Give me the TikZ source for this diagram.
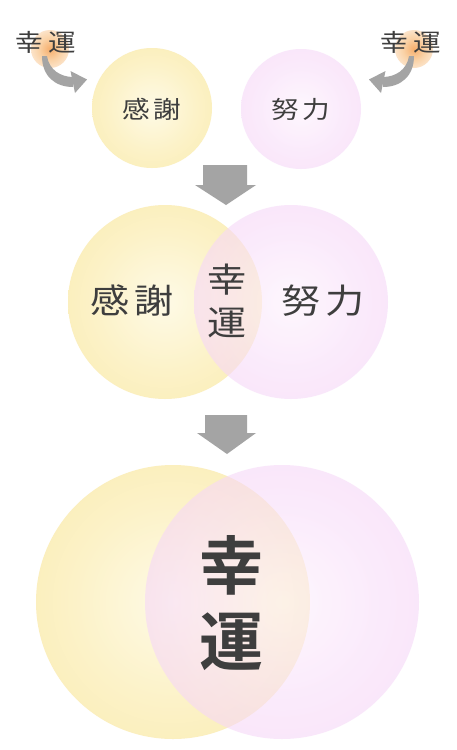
\documentclass[tikz,border=0pt]{standalone}
\usepackage{fontspec}
\newfontfamily\jp[BoldFont={* Bold}]{Noto Sans CJK JP}
\definecolor{yC}{HTML}{FEFAE6}
\definecolor{yM}{HTML}{FCF2C8}
\definecolor{yE}{HTML}{F8E69C}
\definecolor{pC}{HTML}{FDF2FD}
\definecolor{pM}{HTML}{F8DDF9}
\definecolor{pE}{HTML}{F0C1F3}
\definecolor{gC}{HTML}{F6AE6C}
\definecolor{gM}{HTML}{FAD3A8}
\definecolor{gO}{HTML}{FDEEDF}
\definecolor{txtc}{HTML}{3E3E3E}
\definecolor{arrc}{HTML}{A4A4A4}
\pgfdeclareradialshading{ylw}{\pgfpoint{0bp}{0bp}}{color(0bp)=(yC); color(18bp)=(yM); color(50bp)=(yE)}
\pgfdeclareradialshading{pnk}{\pgfpoint{0bp}{0bp}}{color(0bp)=(pC); color(18bp)=(pM); color(50bp)=(pE)}
\pgfdeclareradialshading{glw}{\pgfpoint{0bp}{0bp}}{color(0bp)=(gC); color(15bp)=(gM); color(32bp)=(gO); color(50bp)=(white)}
\begin{document}
\begin{tikzpicture}[x=1pt,y=-1pt,
  ycirc/.style={circle, inner sep=0pt, shading=ylw},
  pcirc/.style={circle, inner sep=0pt, shading=pnk, fill opacity=0.6},
  jtext/.style={inner sep=0pt, text=txtc, align=center},
  blockarrow/.style={fill=arrc},
  bentarrow/.style={fill=arrc}]
\useasboundingbox (0,0) rectangle (456,750);
\fill[white] (0,0) rectangle (456,750);
% glows
\shade[shading=glw] (50,49) circle (19);
\shade[shading=glw] (414,49) circle (19);
% top circles
\node[ycirc, minimum size=120] (ytop) at (152,108) {};
\node[pcirc, minimum size=120] (ptop) at (301,109) {};
% middle circles
\node[ycirc, minimum size=194] (ymid) at (165,302) {};
\node[pcirc, minimum size=194] (pmid) at (291,302) {};
% bottom circles
\node[ycirc, minimum size=274] (ybot) at (173,602) {};
\node[pcirc, minimum size=274] (pbot) at (282,602) {};
% bent arrows
\fill[bentarrow] (42,56) .. controls (42,76) and (55,87) .. (73,87) -- (73,77) .. controls (61,77) and (49,70) .. (47,56) -- cycle;
\fill[bentarrow] (70.5,71) -- (87,79.5) -- (75,93) -- cycle;
\begin{scope}[shift={(456,0)}, xscale=-1]
\fill[bentarrow] (42,56) .. controls (42,76) and (55,87) .. (73,87) -- (73,77) .. controls (61,77) and (49,70) .. (47,56) -- cycle;
\fill[bentarrow] (70.5,71) -- (87,79.5) -- (75,93) -- cycle;
\end{scope}
% block arrows
\fill[blockarrow] (203,165) -- (247,165) -- (247,185) -- (256,185) -- (226,205) -- (195,185) -- (203,185) -- cycle;
\fill[blockarrow] (205,415) -- (247,415) -- (247,433) -- (256,433) -- (227,454) -- (197,433) -- (205,433) -- cycle;
% texts
\node[jtext, font=\jp\fontsize{24}{24}\selectfont] (luckL) at (46,42) {\scalebox{1.15}[1]{幸\hspace{5pt}運}};
\node[jtext, font=\jp\fontsize{24}{24}\selectfont] (luckR) at (411,42) {\scalebox{1.15}[1]{幸\hspace{5pt}運}};
\node[jtext, font=\jp\fontsize{24}{24}\selectfont] (kansha1) at (152,109) {\scalebox{1.15}[1]{感\hspace{3.5pt}謝}};
\node[jtext, font=\jp\fontsize{24}{24}\selectfont] (doryoku1) at (301,109) {\scalebox{1.15}[1]{努\hspace{3.5pt}力}};
\node[jtext, font=\jp\fontsize{34}{34}\selectfont] (kansha2) at (132,301) {\scalebox{1.15}[1]{感\hspace{4.5pt}謝}};
\node[jtext, font=\jp\fontsize{34}{34}\selectfont] (doryoku2) at (323,301) {\scalebox{1.15}[1]{努\hspace{4.5pt}力}};
\node[jtext, font=\jp\fontsize{34}{43}\selectfont] (luck2) at (227,301) {\scalebox{1.15}[1]{幸}\\\scalebox{1.15}[1]{運}};
\node[jtext, font=\jp\bfseries\fontsize{64}{76}\selectfont] (luck3) at (231,603) {幸\\運};
\end{tikzpicture}
\end{document}
